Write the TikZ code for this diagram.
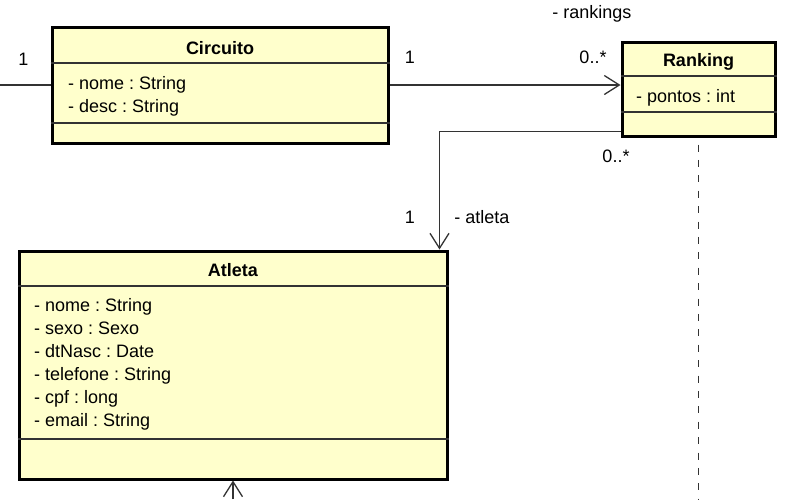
\documentclass[tikz,border=0pt]{standalone}
\usepackage{fontspec}
\setmainfont{Liberation Sans}
\usetikzlibrary{arrows.meta,calc}
\definecolor{umlfill}{RGB}{255,255,204}
\definecolor{umlline}{RGB}{51,51,51}
\frenchspacing
\begin{document}
\begin{tikzpicture}[x=1pt,y=-1pt,
  umlbox/.style={draw=black,line width=3pt,fill=umlfill,rectangle,inner sep=0pt},
  divider/.style={draw=umlline,line width=1.2pt},
  assoc/.style={draw=umlline,line width=1.3pt,-{Straight Barb[length=15pt,width=19pt,line width=1.3pt]}},
  plainline/.style={draw=umlline,line width=1.3pt},
  dashline/.style={draw=umlline,line width=1.5pt,dash pattern=on 7pt off 8.4pt},
  attr/.style={font=\fontsize{18}{21}\selectfont\frenchspacing,inner sep=0pt,anchor=base west},
  title/.style={font=\fontsize{18}{21}\selectfont\bfseries,inner sep=0pt,anchor=base},
  lbl/.style={font=\fontsize{18}{21}\selectfont\frenchspacing,inner sep=0pt,anchor=base}]
\useasboundingbox (0,0) rectangle (788,499);

% Circuito
\node[umlbox,minimum width=336pt,minimum height=116pt] (circ) at (220,85) {};
\draw[divider] (circ.west |- 0,63) -- (circ.east |- 0,63);
\draw[divider] (circ.west |- 0,123) -- (circ.east |- 0,123);
\node[title] (circT) at (220,54) {Circuito};
\node[attr] (circA1) at (68,89) {- nome : String};
\node[attr] (circA2) at (68,112) {- desc : String};

% Ranking
\node[umlbox,minimum width=153pt,minimum height=94pt] (rank) at (698.5,89) {};
\draw[divider] (rank.west |- 0,76) -- (rank.east |- 0,76);
\draw[divider] (rank.west |- 0,112) -- (rank.east |- 0,112);
\node[title] (rankT) at (698.5,66) {Ranking};
\node[attr] (rankA1) at (636,102) {- pontos : int};

% Atleta
\node[umlbox,minimum width=428pt,minimum height=228pt] (atl) at (233,365) {};
\draw[divider] (atl.west |- 0,286) -- (atl.east |- 0,286);
\draw[divider] (atl.west |- 0,439) -- (atl.east |- 0,439);
\node[title] (atlT) at (233,276) {Atleta};
\node[attr] (atlA1) at (34,311) {- nome : String};
\node[attr] (atlA2) at (34,334) {- sexo : Sexo};
\node[attr] (atlA3) at (34,357) {- dtNasc : Date};
\node[attr] (atlA4) at (34,380) {- telefone : String};
\node[attr] (atlA5) at (34,403) {- cpf : long};
\node[attr] (atlA6) at (34,426) {- email : String};

% free ends
\coordinate (lfree) at (0,85);
\coordinate (bfree) at (233,499);
\coordinate (dfree) at (698.5,499);

% connectors
\draw[plainline] (lfree) -- (circ.west);
\draw[assoc] (circ.east) -- (circ.east -| rank.west);
\draw[assoc] ([yshift=6pt]rank.south west) -| ([xshift=-9pt]atl.north east);
\draw[assoc] (bfree) -- (atl.south);
\draw[dashline] ([yshift=-7pt]rank.south) -- (dfree);

% labels
\node[lbl] (m0) at (23.5,65) {1};
\node[lbl] (m1) at (410,63) {1};
\node[lbl] (m2) at (593,63) {0..*};
\node[lbl] (r1) at (592,18) {- rankings};
\node[lbl] (m3) at (616,162) {0..*};
\node[lbl] (m4) at (410,223) {1};
\node[lbl] (r2) at (482,223) {- atleta};
\end{tikzpicture}
\end{document}
